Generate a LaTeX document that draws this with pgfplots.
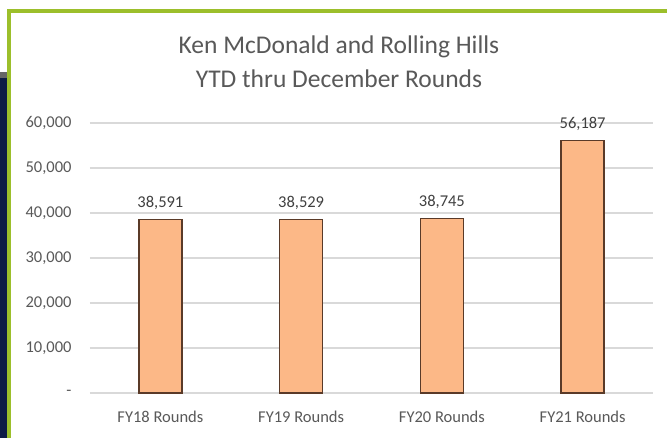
\documentclass[border=0pt]{standalone}
\usepackage{pgfplots}
\pgfplotsset{compat=1.18}
\usepackage{fontspec}
\setmainfont{Carlito}
\definecolor{grn}{HTML}{9CBF2B}
\definecolor{navy}{HTML}{0D1B45}
\definecolor{txt}{HTML}{595959}
\definecolor{gridc}{HTML}{D9D9D9}
\definecolor{barfill}{HTML}{FCB887}
\definecolor{baredge}{HTML}{5A3A28}
\begin{document}
\begin{tikzpicture}[x=1pt,y=1pt]
\path[fill=white] (0,0) rectangle (667,438);
% left dark strip
\fill[navy] (0,0) rectangle (7,360);
\fill[black!60] (0,360) rectangle (7,366);
% green frame
\fill[grn] (7,425) rectangle (667,429);
\fill[grn] (7,0) rectangle (11,429);
% title
\node[anchor=base, text=txt, font=\fontsize{25.5}{30}\selectfont] at (339,384) {Ken McDonald and Rolling Hills};
\node[anchor=base, text=txt, font=\fontsize{25.5}{30}\selectfont] at (339,350) {YTD thru December Rounds};
\begin{axis}[
  at={(90pt,45pt)}, anchor=south west,
  scale only axis, width=563pt, height=270pt,
  ybar, bar width=43pt,
  xmin=-0.5, xmax=3.5, ymin=0, ymax=60000,
  scaled y ticks=false,
  xtick={0,1,2,3},
  xticklabels={FY18 Rounds, FY19 Rounds, FY20 Rounds, FY21 Rounds},
  ytick={0,10000,20000,30000,40000,50000,60000},
  yticklabels={{-},{10,000},{20,000},{30,000},{40,000},{50,000},{60,000}},
  ymajorgrids, xmajorgrids=false,
  grid style={draw=gridc, line width=1.2pt},
  axis line style={draw=none},
  major tick length=0pt,
  tick label style={text=txt, font=\fontsize{16.5}{19}\selectfont},
  yticklabel style={xshift=-15pt},
  xticklabel style={yshift=-15pt},
  /pgf/number format/assume math mode=true,
  /pgf/number format/1000 sep={,},
  nodes near coords,
  nodes near coords style={text=black!75, font=\fontsize{16.5}{19}\selectfont, yshift=6pt},
  clip=false,
]
\addplot[fill=barfill, draw=baredge, line width=1.3pt] coordinates {(0,38591) (1,38529) (2,38745) (3,56187)};
\end{axis}
\end{tikzpicture}
\end{document}
